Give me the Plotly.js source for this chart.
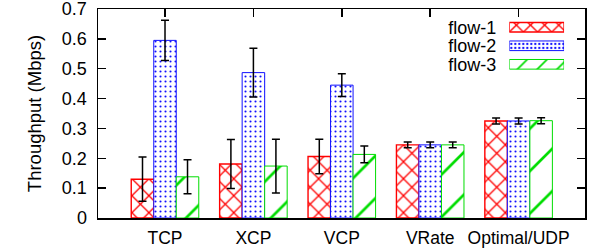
<!DOCTYPE html>
<html>
<head>
<meta charset="utf-8">
<script src="https://cdn.plot.ly/plotly-3.0.1.min.js"></script>
<style>html,body{margin:0;padding:0;background:#fff;}#chart{width:589px;height:251px;}</style>
</head>
<body>
<div id="chart"></div>
<script>
// ---- data ----
var categories = ['TCP', 'XCP', 'VCP', 'VRate', 'Optimal/UDP'];
var seriesNames = ['flow-1', 'flow-2', 'flow-3'];
var flow1 = [0.130, 0.181, 0.206, 0.245, 0.325];
var flow1Err = [0.074, 0.082, 0.058, 0.010, 0.010];
var flow2 = [0.595, 0.487, 0.445, 0.245, 0.325];
var flow2Err = [0.067, 0.082, 0.038, 0.010, 0.010];
var flow3 = [0.138, 0.174, 0.213, 0.245, 0.326];
var flow3Err = [0.057, 0.090, 0.028, 0.010, 0.010];
var yTickVals = [0, 0.1, 0.2, 0.3, 0.4, 0.5, 0.6, 0.7];
var yTickText = ['0', '0.1', '0.2', '0.3', '0.4', '0.5', '0.6', '0.7'];
var legendLength = [1, 1, 1];

// ---- styles ----
var styles = [
  {color: '#ff0000', shape: 'x', size: 12, solidity: 0.2, lw: 1.4, lsize: 10, lsol: 0.25},
  {color: '#1010ff', shape: '.', size: 5, solidity: 0.14, lw: 1.0, lsize: 4, lsol: 0.25},
  {color: '#00dd00', shape: '/', size: 30, solidity: 0.09, lw: 1.0, lsize: 14, lsol: 0.12}
];
var values = [flow1, flow2, flow3];
var errs = [flow1Err, flow2Err, flow3Err];
var FONT = 'Liberation Sans, Arial, Helvetica, sans-serif';

var traces = [];
for (var i = 0; i < 3; i++) {
  var s = styles[i];
  traces.push({
    type: 'bar', name: seriesNames[i], x: categories, y: values[i],
    showlegend: false,
    marker: {color: '#ffffff', line: {color: s.color, width: s.lw},
      pattern: {shape: s.shape, fgcolor: s.color, bgcolor: '#ffffff', size: s.size, solidity: s.solidity, fillmode: 'replace'}},
    error_y: {type: 'data', array: errs[i], visible: true, color: '#000000', thickness: 1.5, width: 4}
  });
}
// legend samples drawn as horizontal bars on a small inset axis
for (var j = 0; j < 3; j++) {
  var t = styles[j];
  traces.push({
    type: 'bar', orientation: 'h', name: seriesNames[j], y: [seriesNames[j]], x: [legendLength[j]],
    xaxis: 'x2', yaxis: 'y2', showlegend: false, width: 0.52, offset: -0.26, hoverinfo: 'skip',
    marker: {color: '#ffffff', line: {color: t.color, width: t.lw},
      pattern: {shape: t.shape, fgcolor: t.color, bgcolor: '#ffffff', size: t.lsize, solidity: t.lsol, fillmode: 'replace'}}
  });
}

var layout = {
  width: 589, height: 251,
  margin: {l: 98, r: 4, t: 9, b: 33, pad: 0},
  paper_bgcolor: '#ffffff', plot_bgcolor: '#ffffff',
  font: {family: FONT, size: 18, color: '#000000'},
  barmode: 'group', bargap: 0.236, bargroupgap: 0,
  showlegend: false,
  xaxis: {
    type: 'category', range: [-0.758, 4.751], domain: [0, 1],
    showline: true, linecolor: '#000000', linewidth: 1.5, mirror: 'ticks',
    ticks: 'inside', ticklen: 8, tickwidth: 1.5, tickcolor: '#000000',
    showgrid: false, zeroline: false, layer: 'below traces',
    tickfont: {family: FONT, size: 17.5, color: '#000000'}, ticklabelstandoff: 3
  },
  yaxis: {
    range: [0, 0.7001], tickmode: 'array', tickvals: yTickVals, ticktext: yTickText,
    showline: true, linecolor: '#000000', linewidth: 1.5, mirror: 'ticks',
    ticks: 'inside', ticklen: 8, tickwidth: 1.5, tickcolor: '#000000',
    showgrid: false, zeroline: false, ticklabeloverflow: 'allow',
    tickfont: {family: FONT, size: 18, color: '#000000'}, ticklabelstandoff: 6,
    title: {text: 'Throughput (Mbps)', font: {family: FONT, size: 18.5, color: '#000000'}, standoff: 15}
  },
  xaxis2: {domain: [0.8446, 0.957], range: [0, 1], anchor: 'y2', visible: false, fixedrange: true},
  yaxis2: {
    domain: [0.691, 0.957], anchor: 'x2', type: 'category',
    categoryorder: 'array', categoryarray: seriesNames, autorange: 'reversed',
    tickmode: 'array', tickvals: seriesNames, ticktext: seriesNames,
    showline: false, ticks: '', showgrid: false, zeroline: false,
    tickfont: {family: FONT, size: 18, color: '#000000'}, ticklabelstandoff: 12
  }
};

Plotly.newPlot('chart', traces, layout, {staticPlot: true, displayModeBar: false});
</script>
</body>
</html>
